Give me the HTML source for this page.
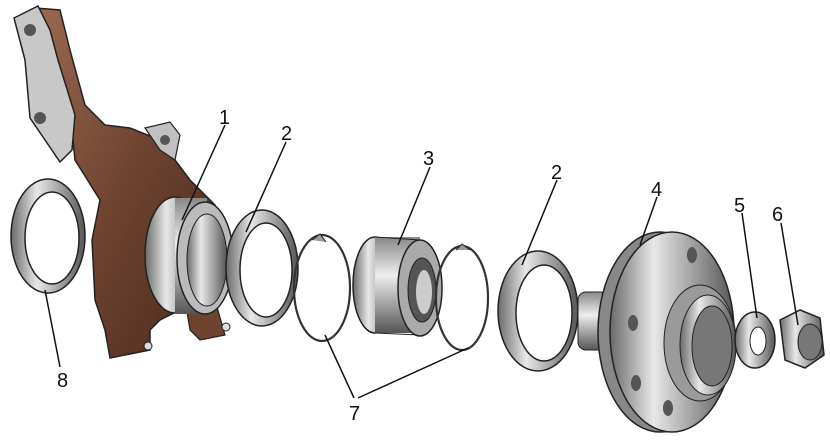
<!DOCTYPE html>
<html><head><meta charset="utf-8"><style>
html,body{margin:0;padding:0;background:#fff;}
svg{display:block;}
text{font-family:"Liberation Sans",sans-serif;font-size:20px;fill:#111;}
</style></head><body>
<svg width="830" height="441" viewBox="0 0 830 441" xmlns="http://www.w3.org/2000/svg">
<defs>
<linearGradient id="met" x1="0" y1="0" x2="1" y2="0">
<stop offset="0" stop-color="#6a6a6a"/><stop offset="0.35" stop-color="#e8e8e8"/><stop offset="0.7" stop-color="#9a9a9a"/><stop offset="1" stop-color="#555"/>
</linearGradient>
<linearGradient id="metv" x1="0" y1="0" x2="0" y2="1">
<stop offset="0" stop-color="#888"/><stop offset="0.4" stop-color="#eee"/><stop offset="1" stop-color="#555"/>
</linearGradient>
<linearGradient id="brn" x1="0" y1="0" x2="1" y2="1">
<stop offset="0" stop-color="#9a6a50"/><stop offset="0.5" stop-color="#6e4330"/><stop offset="1" stop-color="#4a2a1c"/>
</linearGradient>
</defs>

<!-- ring 8 -->
<ellipse cx="48" cy="236" rx="37" ry="57" fill="url(#met)" stroke="#222" stroke-width="1.5"/>
<ellipse cx="52" cy="238" rx="27" ry="46" fill="#fff" stroke="#222" stroke-width="1.5"/>

<!-- knuckle brown body -->
<path d="M35,8 L60,10 L70,50 L85,105 L105,125 L130,128 L160,140 L190,180 L215,205 L200,300 L180,310 L160,320 L150,330 L150,350 L110,358 L105,330 L95,300 L92,240 L100,200 L75,160 L70,110 L55,60 Z" fill="url(#brn)" stroke="#222" stroke-width="1.5"/>
<!-- knuckle silver arm -->
<path d="M14,18 L38,6 L50,30 L58,60 L75,115 L72,150 L60,162 L45,140 L30,118 L25,60 Z" fill="#c8c8c8" stroke="#222" stroke-width="1.5"/>
<path d="M145,128 L170,122 L180,135 L175,160 L160,150 Z" fill="#c0c0c0" stroke="#222" stroke-width="1.2"/>
<path d="M185,300 L215,300 L225,335 L200,340 L190,330 Z" fill="#6e4330" stroke="#222" stroke-width="1.2"/>
<circle cx="30" cy="30" r="6" fill="#555"/>
<circle cx="40" cy="118" r="6" fill="#555"/>
<circle cx="165" cy="140" r="5" fill="#555"/>
<circle cx="148" cy="346" r="4" fill="#ddd" stroke="#222"/>
<circle cx="226" cy="327" r="4" fill="#ddd" stroke="#222"/>

<!-- sleeve 1 -->
<ellipse cx="175" cy="255" rx="30" ry="58" fill="url(#met)" stroke="#222" stroke-width="1.5"/>
<rect x="175" y="198" width="32" height="116" fill="url(#metv)"/>
<ellipse cx="205" cy="258" rx="28" ry="56" fill="#bbb" stroke="#222" stroke-width="1.5"/>
<ellipse cx="207" cy="260" rx="20" ry="46" fill="url(#met)" stroke="#222"/>

<!-- ring 2 left -->
<ellipse cx="262" cy="268" rx="36" ry="58" fill="url(#met)" stroke="#222" stroke-width="1.5"/>
<ellipse cx="266" cy="270" rx="26" ry="47" fill="#fff" stroke="#222" stroke-width="1.5"/>

<!-- circlip 7 left -->
<ellipse cx="322" cy="288" rx="28" ry="53" fill="none" stroke="#333" stroke-width="2.2"/>
<path d="M312,240 l8,-6 l6,8" fill="#999" stroke="#222"/>

<!-- bearing 3 -->
<ellipse cx="375" cy="285" rx="22" ry="48" fill="url(#met)" stroke="#222" stroke-width="1.5"/>
<rect x="375" y="237" width="45" height="96" fill="url(#metv)" stroke="none"/>
<line x1="375" y1="237" x2="420" y2="240" stroke="#222"/>
<line x1="375" y1="333" x2="420" y2="335" stroke="#222"/>
<ellipse cx="420" cy="288" rx="22" ry="48" fill="#aaa" stroke="#222" stroke-width="1.5"/>
<ellipse cx="422" cy="290" rx="14" ry="32" fill="#555" stroke="#222"/>
<ellipse cx="424" cy="292" rx="8" ry="22" fill="#ccc"/>

<!-- circlip 7 right -->
<ellipse cx="462" cy="298" rx="26" ry="52" fill="none" stroke="#333" stroke-width="2.2"/>
<path d="M456,250 l6,-6 l8,6" fill="#999" stroke="#222"/>

<!-- ring 2 right -->
<ellipse cx="538" cy="311" rx="40" ry="60" fill="url(#met)" stroke="#222" stroke-width="1.5"/>
<ellipse cx="544" cy="313" rx="28" ry="48" fill="#fff" stroke="#222" stroke-width="1.5"/>

<!-- hub 4 -->
<rect x="578" y="292" width="30" height="58" rx="8" fill="url(#metv)" stroke="#222"/>
<ellipse cx="660" cy="332" rx="62" ry="100" fill="#888" stroke="#222" stroke-width="1.5"/>
<ellipse cx="672" cy="332" rx="62" ry="100" fill="url(#met)" stroke="#222" stroke-width="1.5"/>
<ellipse cx="700" cy="343" rx="36" ry="58" fill="#9a9a9a" stroke="#222"/>
<ellipse cx="708" cy="345" rx="28" ry="50" fill="url(#met)" stroke="#222"/>
<ellipse cx="712" cy="346" rx="20" ry="40" fill="#777" stroke="#222"/>
<ellipse cx="692" cy="255" rx="5" ry="8" fill="#555"/>
<ellipse cx="633" cy="323" rx="5" ry="8" fill="#555"/>
<ellipse cx="636" cy="383" rx="5" ry="8" fill="#555"/>
<ellipse cx="668" cy="408" rx="5" ry="8" fill="#555"/>

<!-- washer 5 -->
<ellipse cx="755" cy="340" rx="20" ry="28" fill="url(#met)" stroke="#222" stroke-width="1.5"/>
<ellipse cx="758" cy="341" rx="8" ry="14" fill="#fff" stroke="#222"/>

<!-- nut 6 -->
<path d="M780,320 L800,310 L820,318 L824,355 L805,368 L785,360 Z" fill="url(#met)" stroke="#222" stroke-width="1.5"/>
<ellipse cx="810" cy="342" rx="12" ry="18" fill="#777" stroke="#222"/>

<!-- leader lines -->
<g stroke="#111" stroke-width="1.5" fill="none">
<line x1="225" y1="125" x2="182" y2="220"/>
<line x1="286" y1="142" x2="246" y2="232"/>
<line x1="430" y1="167" x2="398" y2="245"/>
<line x1="557" y1="180" x2="522" y2="265"/>
<line x1="657" y1="197" x2="640" y2="245"/>
<line x1="742" y1="213" x2="757" y2="318"/>
<line x1="781" y1="223" x2="798" y2="325"/>
<line x1="354" y1="398" x2="325" y2="335"/>
<line x1="358" y1="398" x2="468" y2="348"/>
<line x1="60" y1="367" x2="45" y2="290"/>
</g>

<text x="219" y="124">1</text>
<text x="281" y="140">2</text>
<text x="423" y="165">3</text>
<text x="551" y="179">2</text>
<text x="651" y="196">4</text>
<text x="734" y="212">5</text>
<text x="772" y="221">6</text>
<text x="349" y="420">7</text>
<text x="57" y="387">8</text>
</svg>
</body></html>
